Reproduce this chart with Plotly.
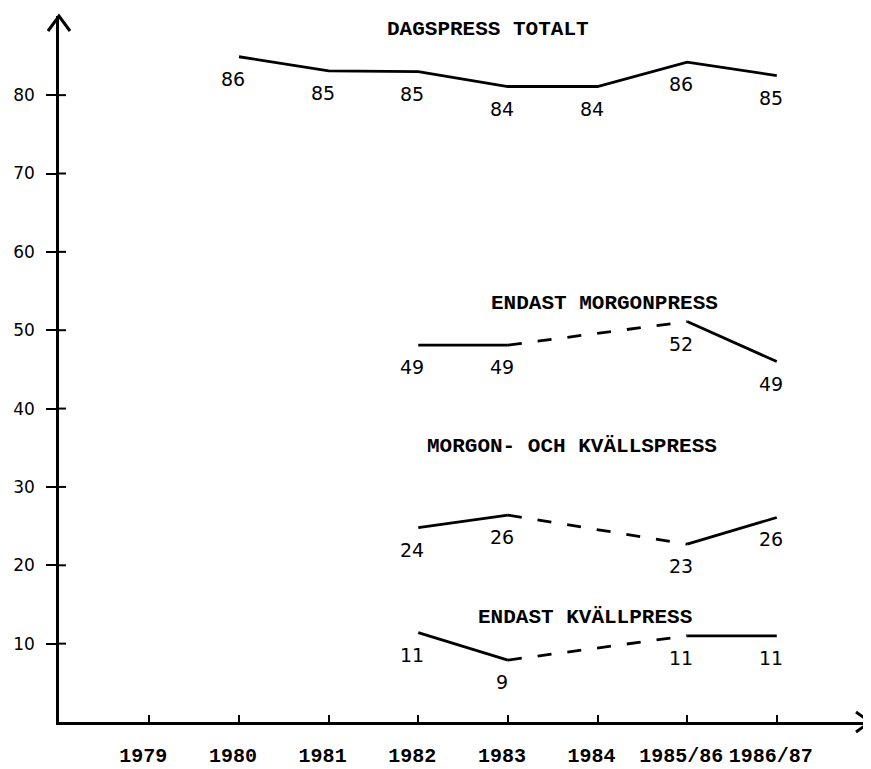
import plotly.graph_objects as go

# ---- data ----
categories = ["1979", "1980", "1981", "1982", "1983", "1984", "1985/86", "1986/87"]
y_ticks = [10, 20, 30, 40, 50, 60, 70, 80]

totalt_years = ["1980", "1981", "1982", "1983", "1984", "1985/86", "1986/87"]
totalt_labels = [86, 85, 85, 84, 84, 86, 85]
totalt_drawn = [84.9, 83.1, 83.0, 81.1, 81.1, 84.2, 82.5]  # as drawn on the chart

sub_years = ["1982", "1983", "1985/86", "1986/87"]
morgon_labels = [49, 49, 52, 49]
morgon_drawn = [48.1, 48.1, 51.1, 46.0]
both_labels = [24, 26, 23, 26]
both_drawn = [24.8, 26.4, 22.7, 26.1]
kvall_labels = [11, 9, 11, 11]
kvall_drawn = [11.4, 7.9, 11.0, 11.0]

series_titles = ["DAGSPRESS TOTALT", "ENDAST MORGONPRESS",
                 "MORGON- OCH KVÄLLSPRESS", "ENDAST KVÄLLPRESS"]

# ---- helpers ----
idx = {c: i for i, c in enumerate(categories)}
XMIN, XMAX = -1.008, 8.04
YMIN, YMAX = 0, 90.1
LINE = dict(color="black", width=2.8)
NUM_FONT = dict(family="DejaVu Sans", size=19, color="black")
MONO_FONT = dict(family="Liberation Mono", size=21, color="black", weight="bold")
TICK_FONT = dict(family="Liberation Mono", size=20, color="black", weight="bold")

fig = go.Figure()

fig.add_trace(go.Scatter(x=[idx[c] for c in totalt_years], y=totalt_drawn,
                         mode="lines", line=LINE, hoverinfo="skip"))

for drawn in (morgon_drawn, both_drawn, kvall_drawn):
    xs = [idx[c] for c in sub_years]
    fig.add_trace(go.Scatter(x=[xs[0], xs[1], None, xs[2], xs[3]],
                             y=[drawn[0], drawn[1], None, drawn[2], drawn[3]],
                             mode="lines", line=LINE, hoverinfo="skip"))
    fig.add_trace(go.Scatter(x=[xs[1], xs[2]], y=[drawn[1], drawn[2]],
                             mode="lines",
                             line=dict(color="black", width=2.8, dash="14px,16px"),
                             hoverinfo="skip"))

annotations = []
for years, drawn, labels in ((totalt_years, totalt_drawn, totalt_labels),
                             (sub_years, morgon_drawn, morgon_labels),
                             (sub_years, both_drawn, both_labels),
                             (sub_years, kvall_drawn, kvall_labels)):
    for c, yv, lab in zip(years, drawn, labels):
        annotations.append(dict(x=idx[c], y=yv, text=str(lab), showarrow=False,
                                xshift=-6, yshift=-22, font=NUM_FONT,
                                xanchor="center", yanchor="middle"))

title_pos = [(3.78, 88.4), (5.08, 53.4), (4.72, 35.2), (4.86, 13.3)]
for t, (tx, ty) in zip(series_titles, title_pos):
    annotations.append(dict(x=tx, y=ty, text=t, showarrow=False, font=MONO_FONT,
                            xanchor="center", yanchor="middle"))

shapes = []
# arrow heads at the axis ends (paper refs so they are not clipped)
shapes.append(dict(type="path", xref="paper", yref="paper",
                   xsizemode="pixel", ysizemode="pixel", xanchor=1, yanchor=0,
                   path="M -14 10 L 0 0 L -14 -10",
                   line=dict(color="black", width=3)))
shapes.append(dict(type="path", xref="paper", yref="paper",
                   xsizemode="pixel", ysizemode="pixel", xanchor=0, yanchor=1,
                   path="M -11 -15 L 0 0 L 11 -15",
                   line=dict(color="black", width=3)))
# inner half of the y tick crosses
for v in y_ticks:
    shapes.append(dict(type="line", xsizemode="pixel", xanchor=XMIN,
                       x0=0, x1=7, y0=v, y1=v,
                       line=dict(color="black", width=2)))

# the page body adds an 8px margin, so the figure is 8px smaller
fig.update_layout(
    width=863, height=761, autosize=False,
    margin=dict(l=51, r=1, t=8, b=47, autoexpand=False),
    paper_bgcolor="white", plot_bgcolor="white",
    showlegend=False,
    annotations=annotations, shapes=shapes,
    xaxis=dict(range=[XMIN, XMAX], tickvals=list(range(len(categories))),
               ticktext=categories, ticks="inside", ticklen=7, tickwidth=1.5,
               tickcolor="black", showgrid=False, zeroline=False,
               showline=True, linecolor="black", linewidth=3,
               tickfont=TICK_FONT, tickangle=0, automargin=False,
               ticklabelstandoff=13, ticklabelshift=-6),
    yaxis=dict(range=[YMIN, YMAX], tickvals=y_ticks, ticks="outside",
               ticklen=10, tickwidth=2, tickcolor="black",
               showgrid=False, zeroline=False,
               showline=True, linecolor="black", linewidth=2.5,
               tickfont=dict(family="DejaVu Sans", size=17, color="black"),
               automargin=False, ticklabelstandoff=8),
)

fig.write_html("out.html")
